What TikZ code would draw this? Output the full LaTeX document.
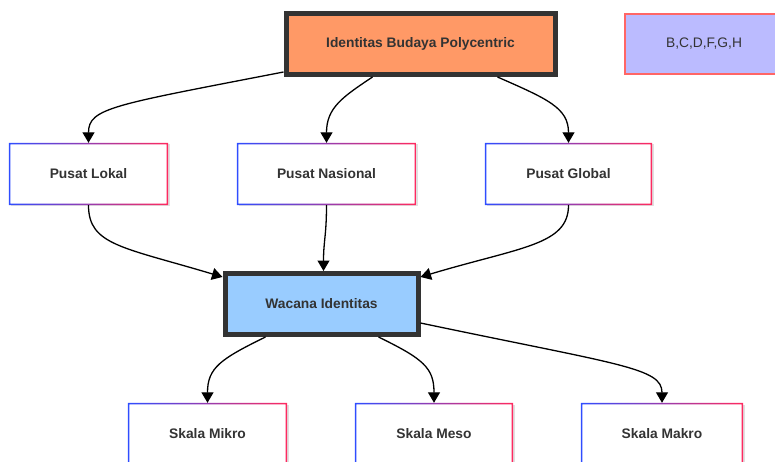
\documentclass[tikz,border=0pt]{standalone}
\usepackage{fontspec}
\setmainfont{Liberation Sans}
\usetikzlibrary{arrows.meta,calc,shadows}
\definecolor{ink}{HTML}{333333}
\definecolor{rootfill}{HTML}{FF9966}
\definecolor{hubfill}{HTML}{99CCFF}
\definecolor{notefill}{HTML}{BBBBFF}
\definecolor{noteline}{HTML}{FF6666}
\definecolor{gblue}{HTML}{2F4DFF}
\definecolor{gred}{HTML}{FF2A5F}
\tikzset{
  lbl/.style={font=\bfseries\fontsize{13.8}{16}\selectfont, text=ink, inner sep=0pt},
  hub/.style={lbl, draw=ink, line width=5pt},
  leaf/.style={lbl, fill=white, minimum height=62pt,
    drop shadow={shadow xshift=1.5pt, shadow yshift=-1.5pt, opacity=0.12, fill=black}},
  note/.style={lbl, font=\fontsize{13.8}{16}\selectfont, fill=notefill, draw=noteline,
    line width=2pt, minimum width=158pt, minimum height=60pt,
    drop shadow={shadow xshift=1.5pt, shadow yshift=-1.5pt, opacity=0.12, fill=black}},
  link/.style={line width=1.3pt, -{Triangle[length=10.5pt,width=12pt]}},
}
% blue-to-red frame round a leaf node
\newcommand\gradframe[1]{%
  \shade[left color=gblue, right color=gred, even odd rule]
    (#1.south west) rectangle (#1.north east)
    ($(#1.south west)+(1.5pt,1.5pt)$) rectangle ($(#1.north east)-(1.5pt,1.5pt)$);}
\begin{document}
\begin{tikzpicture}[x=1pt, y=-1pt]
\useasboundingbox (0,0) rectangle (775,462);

% nodes
\node[hub, fill=rootfill, minimum width=269pt, minimum height=61pt] (top) at (420.5,44) {Identitas Budaya Polycentric};
\node[note] (note) at (704,44) {B,C,D,F,G,H};

\node[leaf, minimum width=159pt] (lok) at (88.5,174) {Pusat Lokal};
\node[leaf, minimum width=179pt] (nas) at (326.5,174) {Pusat Nasional};
\node[leaf, minimum width=167pt] (glo) at (568.5,174) {Pusat Global};

\node[hub, fill=hubfill, minimum width=193pt, minimum height=61pt] (wac) at (321.5,304) {Wacana Identitas};

\node[leaf, minimum width=159pt] (mik) at (207.5,434) {Skala Mikro};
\node[leaf, minimum width=158pt] (mes) at (434,434) {Skala Meso};
\node[leaf, minimum width=162pt] (mak) at (662,434) {Skala Makro};

\foreach \n in {lok,nas,glo,mik,mes,mak}{\gradframe{\n}}

% connectors
\draw[link] ($(top.south west)+(0,5pt)$) .. controls +(-170,33) and +(0,-35) .. (lok.north);
\draw[link] ($(top.south)+(-48,0)$) .. controls +(-30,20) and +(0,-35) .. (nas.north);
\draw[link] ($(top.south)+(77,0)$) .. controls +(50,22) and +(0,-35) .. (glo.north);

\draw[link] (lok.south) .. controls +(0,40) and +(-100,-30) .. ($(wac.north west)+(0,-6pt)$);
\draw[link] (nas.south) .. controls +(0,30) and +(0,-30) .. ($(wac.north)+(2,0)$);
\draw[link] (glo.south) .. controls +(0,40) and +(100,-30) .. ($(wac.north east)+(0,-6pt)$);

\draw[link] ($(wac.south)+(-56,0)$) .. controls +(-45,22) and +(0,-35) .. (mik.north);
\draw[link] ($(wac.south)+(57,0)$) .. controls +(45,22) and +(0,-35) .. (mes.north);
\draw[link] ($(wac.east)+(0,19)$) .. controls +(200,42) and +(0,-35) .. (mak.north);
\end{tikzpicture}
\end{document}
